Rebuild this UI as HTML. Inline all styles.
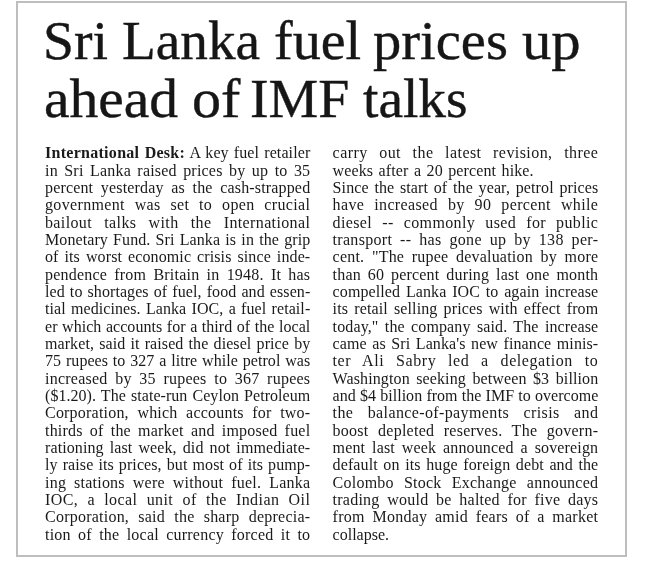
<!DOCTYPE html>
<html lang="en"><head><meta charset="utf-8"><title>Sri Lanka fuel prices up ahead of IMF talks</title>
<style>
html,body{margin:0;padding:0;background:#fff;}
body{width:647px;height:561px;position:relative;overflow:hidden;font-family:"Liberation Serif","DejaVu Serif",serif;color:#1a1a1a;}
.frame{position:absolute;left:16px;top:1px;width:607px;height:552px;border:2px solid #bebebe;background:#fff;}
h1{position:absolute;margin:0;left:0;top:0;width:647px;height:130px;font-weight:normal;font-size:55px;line-height:60px;white-space:nowrap;color:#161616;-webkit-text-stroke:0.4px #161616;}
h1 span{position:absolute;display:block;transform-origin:0 0;}
.col{position:absolute;top:0;margin:0;}
.a{left:45px;width:265.3px;}
.b{left:332.6px;width:265.7px;}
.col p{position:absolute;left:0;margin:0;width:100%;font-size:16px;line-height:17px;height:17px;white-space:nowrap;text-align:justify;text-align-last:justify;}
.col p.n{text-align:left;text-align-last:left;}
b{font-weight:bold;letter-spacing:0.28px;}
</style></head><body>
<div class="frame"></div>

<h1>
<span style="left:42.75px;top:11.24px;transform:scaleX(1.0119)">Sri</span> 
<span style="left:122.49px;top:11.24px;transform:scaleX(1.0052)">Lanka</span> 
<span style="left:273.56px;top:11.24px;transform:scaleX(1.0195)">fuel</span> 
<span style="left:373.47px;top:11.24px;transform:scaleX(1.0273)">prices</span> 
<span style="left:521.63px;top:11.24px;transform:scaleX(1.0673)">up</span> 
<span style="left:43.91px;top:68.54px;transform:scaleX(1.0460)">ahead</span> 
<span style="left:192.09px;top:68.54px;transform:scaleX(1.0545)">of</span> 
<span style="left:249.97px;top:68.54px;transform:scaleX(1.0160)">IMF</span> 
<span style="left:363.49px;top:68.54px;transform:scaleX(1.0069)">talks</span> 
</h1>
<div class="col a">
<p style="top:144.20px;letter-spacing:0.096px;"><b>International Desk:</b> A key fuel retailer</p>
<p style="top:161.54px;letter-spacing:0.200px;">in Sri Lanka raised prices by up to 35</p>
<p style="top:178.88px;letter-spacing:0.159px;">percent yesterday as the cash-strapped</p>
<p style="top:196.22px;letter-spacing:0.345px;">government was set to open crucial</p>
<p style="top:213.56px;letter-spacing:0.374px;">bailout talks with the International</p>
<p style="top:230.90px;letter-spacing:0.085px;">Monetary Fund. Sri Lanka is in the grip</p>
<p style="top:248.24px;letter-spacing:0.117px;">of its worst economic crisis since inde-</p>
<p style="top:265.58px;letter-spacing:0.209px;">pendence from Britain in 1948. It has</p>
<p style="top:282.92px;letter-spacing:0.075px;">led to shortages of fuel, food and essen-</p>
<p style="top:300.26px;letter-spacing:0.075px;">tial medicines. Lanka IOC, a fuel retail-</p>
<p style="top:317.60px;letter-spacing:0.042px;">er which accounts for a third of the local</p>
<p style="top:334.94px;letter-spacing:0.080px;">market, said it raised the diesel price by</p>
<p style="top:352.28px;letter-spacing:0.062px;">75 rupees to 327 a litre while petrol was</p>
<p style="top:369.62px;letter-spacing:0.241px;">increased by 35 rupees to 367 rupees</p>
<p style="top:386.96px;letter-spacing:0.047px;">($1.20). The state-run Ceylon Petroleum</p>
<p style="top:404.30px;letter-spacing:0.208px;">Corporation, which accounts for two-</p>
<p style="top:421.64px;letter-spacing:0.206px;">thirds of the market and imposed fuel</p>
<p style="top:438.98px;letter-spacing:0.106px;">rationing last week, did not immediate-</p>
<p style="top:456.32px;letter-spacing:0.083px;">ly raise its prices, but most of its pump-</p>
<p style="top:473.66px;letter-spacing:0.220px;">ing stations were without fuel. Lanka</p>
<p style="top:491.00px;letter-spacing:0.415px;">IOC, a local unit of the Indian Oil</p>
<p style="top:508.34px;letter-spacing:0.231px;">Corporation, said the sharp deprecia-</p>
<p style="top:525.68px;letter-spacing:0.233px;">tion of the local currency forced it to</p>
</div>
<div class="col b">
<p style="top:144.20px;letter-spacing:0.430px;">carry out the latest revision, three</p>
<p style="top:161.54px;letter-spacing:0.100px;width:201.0px;">weeks after a 20 percent hike.</p>
<p style="top:178.88px;letter-spacing:0.113px;">Since the start of the year, petrol prices</p>
<p style="top:196.22px;letter-spacing:0.357px;">have increased by 90 percent while</p>
<p style="top:213.56px;letter-spacing:0.364px;">diesel -- commonly used for public</p>
<p style="top:230.90px;letter-spacing:0.302px;">transport -- has gone up by 138 per-</p>
<p style="top:248.24px;letter-spacing:0.205px;">cent. &quot;The rupee devaluation by more</p>
<p style="top:265.58px;letter-spacing:0.187px;">than 60 percent during last one month</p>
<p style="top:282.92px;letter-spacing:0.098px;">compelled Lanka IOC to again increase</p>
<p style="top:300.26px;letter-spacing:0.123px;">its retail selling prices with effect from</p>
<p style="top:317.60px;letter-spacing:0.124px;">today,&quot; the company said. The increase</p>
<p style="top:334.94px;letter-spacing:0.097px;">came as Sri Lanka's new finance minis-</p>
<p style="top:352.28px;letter-spacing:0.565px;">ter Ali Sabry led a delegation to</p>
<p style="top:369.62px;letter-spacing:0.111px;">Washington seeking between $3 billion</p>
<p style="top:386.96px;letter-spacing:0.017px;">and $4 billion from the IMF to overcome</p>
<p style="top:404.30px;letter-spacing:0.380px;">the balance-of-payments crisis and</p>
<p style="top:421.64px;letter-spacing:0.251px;">boost depleted reserves. The govern-</p>
<p style="top:438.98px;letter-spacing:0.159px;">ment last week announced a sovereign</p>
<p style="top:456.32px;letter-spacing:0.110px;">default on its huge foreign debt and the</p>
<p style="top:473.66px;letter-spacing:0.237px;">Colombo Stock Exchange announced</p>
<p style="top:491.00px;letter-spacing:0.238px;">trading would be halted for five days</p>
<p style="top:508.34px;letter-spacing:0.259px;">from Monday amid fears of a market</p>
<p class="n" style="top:525.68px;">collapse.</p>
</div>
</body></html>
